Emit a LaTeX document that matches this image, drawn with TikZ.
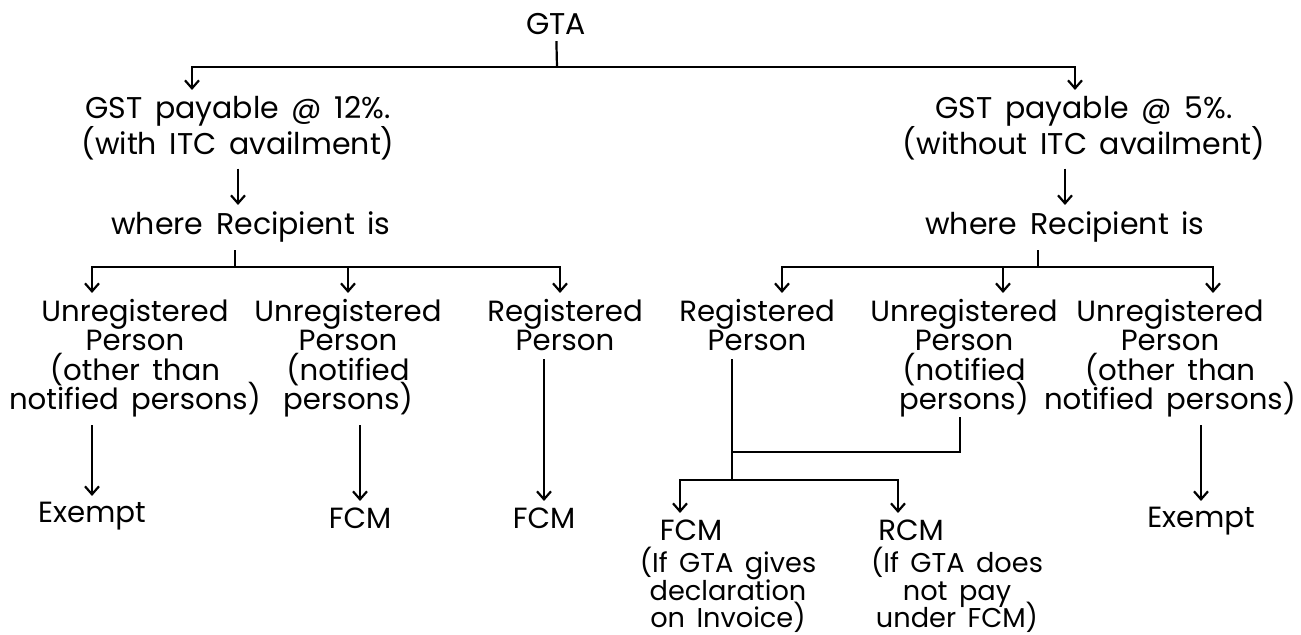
\documentclass[tikz,border=0pt]{standalone}
\usepackage{fontspec}
\setmainfont{Poppins}
\usetikzlibrary{arrows.meta}
\newcommand\widesp{\spaceskip=0.42em plus 0.1em\relax\lineskiplimit=-\maxdimen}

\begin{document}
\begin{tikzpicture}[x=0.5pt, y=-0.5pt, >={Straight Barb[length=4pt,width=7pt]},
  txt/.style={inner sep=0pt, align=center, font=\fontsize{14.6}{14.6}\selectfont\widesp},
  head/.style={txt, font=\fontsize{15}{18}\selectfont\widesp},
  note/.style={txt, font=\fontsize{13.6}{13.6}\selectfont\widesp},
  link/.style={->, line width=1.1pt, shorten <=4pt, shorten >=3pt},
  bar/.style={line width=1.1pt}]
  \useasboundingbox[fill=white] (0,0) rectangle (1301,635);

  \node[head] (gta) at (556,24) {GTA};
  \node[head, anchor=north] (g12) at (238,96) {GST payable @ 12\%.\\(with ITC availment)};
  \node[head, anchor=north] (g5) at (1084,96) {GST payable @ 5\%.\\(without ITC availment)};
  \node[head, anchor=north] (wr12) at (251,211) {where Recipient is};
  \node[head, anchor=north] (wr5) at (1065,211) {where Recipient is};

  \node[txt, anchor=north] (u12a) at (135,299) {Unregistered\\Person\\(other than\\notified persons)};
  \node[txt, anchor=north] (u12b) at (348,299) {Unregistered\\Person\\(notified\\persons)};
  \node[txt, anchor=north] (r12) at (565,299) {Registered\\Person};
  \node[txt, anchor=north] (r5) at (757,299) {Registered\\Person};
  \node[txt, anchor=north] (u5b) at (964,299) {Unregistered\\Person\\(notified\\persons)};
  \node[txt, anchor=north] (u5a) at (1170,299) {Unregistered\\Person\\(other than\\notified persons)};

  \node[txt, anchor=north] (ex12) at (92,502) {Exempt};
  \node[txt, anchor=north] (fcm12b) at (360,507) {FCM};
  \node[txt, anchor=north] (fcm12c) at (544,507) {FCM};
  \node[txt, anchor=north] (fcm5) at (691,519) {FCM};
  \node[txt, anchor=north] (rcm5) at (911,519) {RCM};
  \node[txt, anchor=north] (ex5) at (1201,507) {Exempt};
  \node[note, anchor=north] (nfcm) at (728,547) {(If GTA gives\\declaration\\on Invoice)};
  \node[note, anchor=north] (nrcm) at (957,547) {(If GTA does\\not pay\\under FCM)};

  \coordinate (t0) at (557,67);
  \draw[bar, shorten <=3pt] (gta) -- (t0);
  \draw[link, shorten <=0pt] (t0) -| ([xshift=-23pt]g12.north);
  \draw[link, shorten <=0pt] (t0) -| ([xshift=-4.5pt]g5.north);

  \draw[link] (g12) -- (g12 |- wr12.north);
  \draw[link] (wr5 |- g5.south) -- (wr5);

  \coordinate (t12) at (235,267);
  \draw[bar, shorten <=4pt] (wr12.south -| t12) -- (t12);
  \draw[link, shorten <=0pt] (t12) -| ([xshift=-21.5pt]u12a.north);
  \draw[link, shorten <=0pt] (t12) -| (u12b.north);
  \draw[link, shorten <=0pt] (t12) -| ([xshift=-2.5pt]r12.north);

  \coordinate (t5) at (1038,267);
  \draw[bar, shorten <=4pt] (wr5.south -| t5) -- (t5);
  \draw[link, shorten <=0pt] (t5) -| ([xshift=12.5pt]r5.north);
  \draw[link, shorten <=0pt] (t5) -| ([xshift=19.5pt]u5b.north);
  \draw[link, shorten <=0pt] (t5) -| ([xshift=21.5pt]u5a.north);

  \draw[link] (u12a.south -| ex12) -- (ex12);
  \draw[link] (u12b.south -| fcm12b) -- (fcm12b);
  \draw[link] (r12.south -| fcm12c) -- (fcm12c);
  \draw[link] (u5a.south -| ex5) -- (ex5);

  \coordinate (m5) at (732,480);
  \coordinate (m5b) at (732,452);
  \draw[bar, shorten <=4pt] ([xshift=-12.5pt]r5.south) -- (m5);
  \draw[bar] ([xshift=-2pt]u5b.south) |- (m5b);
  \draw[link, shorten <=0pt] (m5) -| ([xshift=-5.5pt]fcm5.north);
  \draw[link, shorten <=0pt] (m5) -| ([xshift=-6.5pt]rcm5.north);
\end{tikzpicture}
\end{document}
